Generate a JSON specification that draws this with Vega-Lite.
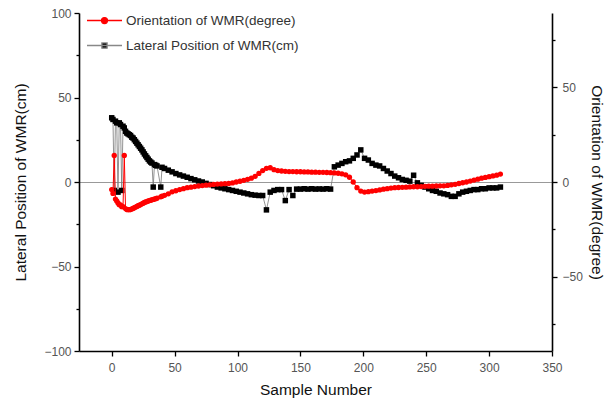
{
  "$schema": "https://vega.github.io/schema/vega-lite/v6.json",
  "width": 473,
  "height": 338,
  "autosize": {"type": "none"},
  "padding": {"left": 79, "top": 13, "right": 54, "bottom": 52},
  "config": {
    "view": {"stroke": null},
    "font": "Liberation Sans",
    "axis": {"grid": false, "domainColor": "#000", "domainWidth": 1.6, "tickColor": "#000", "tickWidth": 1.3,
             "labelColor": "#555", "labelFontSize": 12, "labelFont": "Liberation Sans",
             "titleFont": "Liberation Sans", "titleFontSize": 15.5, "titleFontWeight": "normal", "titleColor": "#111"}
  },
  "datasets": {
    "main": [
      {"n":0,"p":38,"o":-4},{"n":1,"p":37,"o":-6},{"n":2,"p":-5,"o":14},{"n":3,"p":36,"o":-9},
      {"n":4,"p":35,"o":-10},{"n":5,"p":-6,"o":-11},{"n":6,"p":35,"o":-12},{"n":7,"p":34,"o":-12},
      {"n":8,"p":-5,"o":-13},{"n":9,"p":33,"o":-13},{"n":10,"p":32,"o":14},{"n":11,"p":30,"o":-14},
      {"n":12,"p":29,"o":-14.5},{"n":13,"p":28.5,"o":-14.6},{"n":14,"p":28,"o":-14.6},{"n":15,"p":27.5,"o":-14.5},
      {"n":16,"p":26.5,"o":-14.2},{"n":17,"p":26,"o":-13.9},{"n":18,"p":25,"o":-13.5},{"n":19,"p":24,"o":-13.2},
      {"n":20,"p":23,"o":-12.9},{"n":21,"p":22,"o":-12.5},{"n":22,"p":21,"o":-12.2},{"n":23,"p":20,"o":-11.9},
      {"n":24,"p":19,"o":-11.5},{"n":25,"p":17.8,"o":-11.2},{"n":26,"p":16.6,"o":-10.8},{"n":27,"p":15.5,"o":-10.5},
      {"n":28,"p":14.5,"o":-10.3},{"n":29,"p":13.5,"o":-10},{"n":30,"p":12.5,"o":-9.8},{"n":31,"p":11.8,"o":-9.6},
      {"n":32,"p":11.2,"o":-9.4},{"n":33,"p":-3,"o":-9.2},{"n":34,"p":10.3,"o":-9},{"n":35,"p":9.9,"o":-8.8},
      {"n":36,"p":9.5,"o":-8.5},{"n":39,"p":-3,"o":-7.8},{"n":40,"p":8.7,"o":-7.5},{"n":42,"p":8,"o":-7},{"n":45,"p":7,"o":-6.2},
      {"n":48,"p":6,"o":-5.2},{"n":51,"p":5,"o":-4.6},{"n":54,"p":4.2,"o":-4},{"n":57,"p":3.5,"o":-3.5},
      {"n":60,"p":2.8,"o":-3},{"n":63,"p":2,"o":-2.7},{"n":66,"p":1.3,"o":-2.4},{"n":69,"p":0.6,"o":-2.1},
      {"n":72,"p":0,"o":-1.9},{"n":75,"p":-0.8,"o":-1.7},{"n":78,"p":-1.5,"o":-1.5},{"n":81,"p":-2.2,"o":-1.3},
      {"n":84,"p":-3,"o":-1.1},{"n":87,"p":-3.5,"o":-1},{"n":90,"p":-4,"o":-0.9},{"n":93,"p":-4.5,"o":-0.8},
      {"n":96,"p":-5,"o":-0.5},{"n":99,"p":-5.5,"o":0},{"n":102,"p":-6,"o":0.4},{"n":105,"p":-6.5,"o":0.9},
      {"n":108,"p":-7,"o":1.4},{"n":111,"p":-7.5,"o":2},{"n":114,"p":-7.8,"o":3},{"n":117,"p":-8,"o":4.5},
      {"n":120,"p":-8,"o":6},{"n":123,"p":-16.5,"o":7.2},{"n":126,"p":-6,"o":7.5},{"n":129,"p":-5,"o":6.5},
      {"n":132,"p":-4.5,"o":6},{"n":135,"p":-4.5,"o":5.8},{"n":138,"p":-11,"o":5.6},{"n":141,"p":-4.5,"o":5.5},
      {"n":144,"p":-8,"o":5.5},{"n":147,"p":-4.2,"o":5.4},{"n":150,"p":-4.2,"o":5.4},{"n":153,"p":-4,"o":5.3},
      {"n":156,"p":-4.2,"o":5.3},{"n":159,"p":-4,"o":5.2},{"n":162,"p":-4.2,"o":5.2},{"n":165,"p":-4.1,"o":5.1},
      {"n":168,"p":-4.2,"o":5.1},{"n":171,"p":-4,"o":5},{"n":174,"p":-4.2,"o":4.9},{"n":177,"p":9,"o":4.8},
      {"n":180,"p":10,"o":4.6},{"n":183,"p":11,"o":4.3},{"n":186,"p":12,"o":3.8},{"n":189,"p":12.5,"o":2.5},
      {"n":192,"p":14,"o":0},{"n":195,"p":16,"o":-3},{"n":198,"p":19,"o":-4.8},{"n":201,"p":14,"o":-5.3},
      {"n":204,"p":13,"o":-5.1},{"n":207,"p":11,"o":-4.8},{"n":210,"p":10,"o":-4.5},{"n":213,"p":9.5,"o":-4.2},
      {"n":216,"p":8,"o":-3.8},{"n":219,"p":6.5,"o":-3.5},{"n":222,"p":5,"o":-3.2},{"n":225,"p":3.5,"o":-3},
      {"n":228,"p":2.5,"o":-2.9},{"n":231,"p":1.5,"o":-2.8},{"n":234,"p":1,"o":-2.7},{"n":237,"p":0.5,"o":-2.6},
      {"n":240,"p":4,"o":-2.5},{"n":243,"p":-0.5,"o":-2.5},{"n":246,"p":-2,"o":-2.4},{"n":249,"p":-3,"o":-2.3},
      {"n":252,"p":-4,"o":-2.2},{"n":255,"p":-5,"o":-2.2},{"n":258,"p":-5.5,"o":-2.1},{"n":261,"p":-6.5,"o":-2},
      {"n":264,"p":-7,"o":-2},{"n":267,"p":-7.5,"o":-1.8},{"n":270,"p":-8.5,"o":-1.5},{"n":273,"p":-8.5,"o":-1.2},
      {"n":276,"p":-7,"o":-0.8},{"n":279,"p":-6,"o":-0.4},{"n":282,"p":-5.5,"o":0},{"n":285,"p":-5,"o":0.5},
      {"n":288,"p":-4.5,"o":1},{"n":291,"p":-4.5,"o":1.5},{"n":294,"p":-4,"o":2},{"n":297,"p":-4,"o":2.4},
      {"n":300,"p":-3.5,"o":2.8},{"n":303,"p":-3.5,"o":3.2},{"n":306,"p":-3.5,"o":3.6},{"n":309,"p":-3,"o":4.2}
    ],
    "legend": [
      {"series": "Orientation of WMR(degree)"},
      {"series": "Lateral Position of WMR(cm)"}
    ]
  },
  "resolve": {"scale": {"y": "independent"}},
  "layer": [
    {
      "layer": [
        {
          "data": {"name": "main"},
          "mark": {"type": "line", "color": "#777", "strokeWidth": 0.8},
          "encoding": {
            "x": {"field": "n", "type": "quantitative", "scale": {"domain": [-26, 350], "nice": false, "zero": false},
                  "axis": {"title": "Sample Number", "domain": true,
                           "values": [0,25,50,75,100,125,150,175,200,225,250,275,300,325,350],
                           "labelExpr": "datum.value % 50 === 0 ? datum.label : ''",
                           "labelOverlap": false, "labelFlush": false,
                           "tickSize": {"condition": {"test": "datum.value % 50 !== 0", "value": 3}, "value": 5},
                           "labelPadding": 6, "titlePadding": 9}},
            "y": {"field": "p", "type": "quantitative", "scale": {"domain": [-100, 100], "nice": false},
                  "axis": {"title": "Lateral Position of WMR(cm)", "orient": "left",
                           "values": [-100,-75,-50,-25,0,25,50,75,100],
                           "labelExpr": "datum.value % 50 === 0 ? datum.label : ''",
                           "labelOverlap": false,
                           "tickSize": {"condition": {"test": "datum.value % 50 !== 0", "value": 3}, "value": 5},
                           "grid": true, "gridColor": "#999", "gridWidth": 1.2,
                           "gridOpacity": {"condition": {"test": "datum.value !== 0", "value": 0}, "value": 1},
                           "labelPadding": 3, "titlePadding": 15}}
          }
        },
        {
          "data": {"name": "main"},
          "mark": {"type": "point", "shape": "square", "filled": true, "color": "#000", "size": 30, "opacity": 1},
          "encoding": {
            "x": {"field": "n", "type": "quantitative"},
            "y": {"field": "p", "type": "quantitative"}
          }
        },
        {
          "data": {"name": "legend"},
          "mark": {"type": "point", "filled": true, "opacity": 0},
          "encoding": {
            "fill": {"field": "series", "type": "nominal",
                     "scale": {"domain": ["Orientation of WMR(degree)", "Lateral Position of WMR(cm)"], "range": ["#ff0000", "#000000"]},
                     "legend": {"title": null, "orient": "none", "legendX": 7, "legendY": -11, "symbolSize": 1225,
                                "symbolOpacity": 1, "symbolStrokeWidth": 1.3, "labelFontSize": 13.5, "labelColor": "#333",
                                "labelFont": "Liberation Sans", "labelOffset": 3, "rowPadding": -2, "labelLimit": 400,
                                "encode": {"symbols": {"update": {"opacity": {"value": 1}, "fillOpacity": {"value": 1}, "strokeOpacity": {"value": 1}}}}}},
            "stroke": {"field": "series", "type": "nominal",
                       "scale": {"domain": ["Orientation of WMR(degree)", "Lateral Position of WMR(cm)"], "range": ["#ff0000", "#888888"]}},
            "shape": {"field": "series", "type": "nominal",
                      "scale": {"domain": ["Orientation of WMR(degree)", "Lateral Position of WMR(cm)"],
                                "range": ["M-1,0H1M-0.17,0A0.17,0.17,0,1,0,0.17,0A0.17,0.17,0,1,0,-0.17,0Z",
                                          "M-1,0H1M-0.15,-0.15H0.15V0.15H-0.15Z"]}}
          }
        }
      ]
    },
    {
      "data": {"name": "main"},
      "layer": [
        {
          "mark": {"type": "line", "color": "#ff0000", "strokeWidth": 1},
          "encoding": {
            "x": {"field": "n", "type": "quantitative"},
            "y": {"field": "o", "type": "quantitative", "scale": {"domain": [-89, 89], "nice": false},
                  "axis": {"title": "Orientation of WMR(degree)", "orient": "right",
                           "values": [-75,-50,-25,0,25,50,75],
                           "labelExpr": "datum.value % 50 === 0 ? datum.label : ''",
                           "labelOverlap": false,
                           "tickSize": {"condition": {"test": "datum.value % 50 !== 0", "value": 3}, "value": 5},
                           "labelPadding": 5, "titlePadding": 6}}
          }
        },
        {
          "mark": {"type": "point", "shape": "circle", "filled": true, "color": "#ff0000", "size": 28, "opacity": 1},
          "encoding": {
            "x": {"field": "n", "type": "quantitative"},
            "y": {"field": "o", "type": "quantitative"}
          }
        }
      ]
    }
  ]
}
